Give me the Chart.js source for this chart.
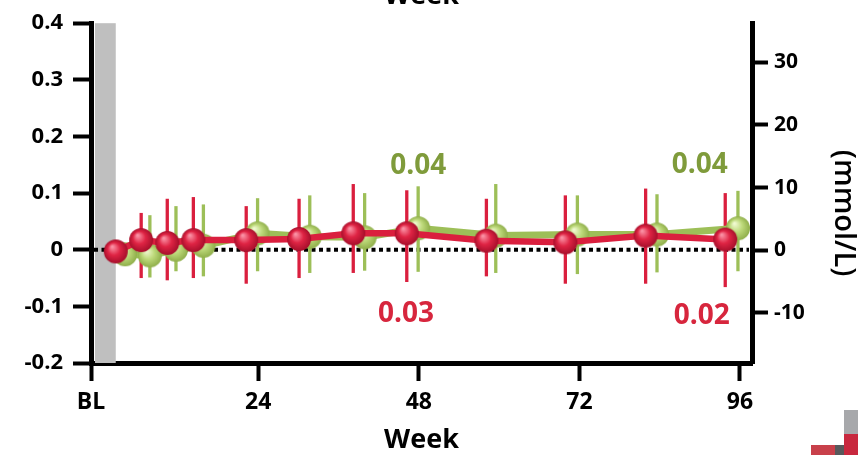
<!DOCTYPE html>
<html>
<head>
<meta charset="utf-8">
<script src="https://cdn.jsdelivr.net/npm/chart.js@4/dist/chart.umd.min.js"></script>
<style>
  html, body { margin: 0; padding: 0; background: #fff; }
  #wrap { width: 858px; height: 455px; position: relative; }
</style>
</head>
<body>
<div id="wrap"><canvas id="chart" width="858" height="455"></canvas></div>
<script>
// --- data ---
const xTicks = [-1, 24, 48, 72, 96];
const xTickLabels = ['BL', '24', '48', '72', '96'];
const leftTicks = [-0.2, -0.1, 0, 0.1, 0.2, 0.3, 0.4];
const leftTickLabels = ['-0.2', '-0.1', '0', '0.1', '0.2', '0.3', '0.4'];
const rightTicks = [-10, 0, 10, 20, 30];

const redWeek  = [2.7, 6.5, 10.4, 14.3, 22.2, 30.1, 38.2, 46.2, 58.1, 69.9, 81.9, 93.8];
const redMean  = [-0.003, 0.017, 0.012, 0.017, 0.017, 0.019, 0.029, 0.029, 0.016, 0.013, 0.025, 0.018];
const redLow   = [null, -0.050, -0.054, -0.050, -0.060, -0.050, -0.041, -0.057, -0.047, -0.060, -0.060, -0.066];
const redHigh  = [null, 0.065, 0.090, 0.093, 0.077, 0.090, 0.116, 0.105, 0.090, 0.096, 0.108, 0.100];

const greenWeek = [4.1, 7.8, 11.7, 15.8, 23.9, 31.7, 39.9, 47.9, 59.5, 71.7, 83.6, 95.7];
const greenMean = [-0.008, -0.010, 0.000, 0.007, 0.029, 0.023, 0.022, 0.038, 0.025, 0.027, 0.027, 0.038];
const greenLow  = [null, -0.049, -0.038, -0.047, -0.038, -0.041, -0.037, -0.039, -0.041, -0.043, -0.040, -0.038];
const greenHigh = [null, 0.061, 0.077, 0.080, 0.091, 0.096, 0.100, 0.112, 0.116, 0.096, 0.098, 0.104];

// baseline shading (weeks)
const blBand = [-0.4, 2.7];

// value labels: [week, value, text]
const greenNotes = [[47.9, 0.147, '0.04'], [90.0, 0.149, '0.04']];
const redNotes   = [[46.1, -0.113, '0.03'], [90.3, -0.117, '0.02']];

const RED = '#da1f3e';
const GREEN = '#9dbf58';
const FONT = '"Open Sans", "DejaVu Sans", sans-serif';

// shaded ball used as point marker
function makeBall(r, light, base, dark) {
    const c = document.createElement('canvas');
    c.width = c.height = r * 2 + 2;
    const g = c.getContext('2d');
    const cx = r + 1, cy = r + 1;
    const grad = g.createRadialGradient(cx - r * 0.3, cy - r * 0.4, r * 0.05, cx, cy, r);
    grad.addColorStop(0, light);
    grad.addColorStop(0.5, base);
    grad.addColorStop(1, dark);
    g.fillStyle = grad;
    g.beginPath();
    g.arc(cx, cy, r, 0, Math.PI * 2);
    g.fill();
    return c;
}
const redBall = makeBall(12, '#fb93a6', '#df2444', '#a60f2b');
const greenBall = makeBall(12, '#f1fad2', '#bdd97a', '#8fae4a');

function toPoints(xs, ys) {
    return xs.map((x, i) => ({ x: x, y: ys[i] }));
}

const extras = {
    id: 'extras',
    beforeDatasetsDraw(chart) {
        const ctx = chart.ctx;
        const x = chart.scales.x, y = chart.scales.y;
        const area = chart.chartArea;
        ctx.save();
        // baseline band
        ctx.fillStyle = '#bfbfbf';
        const bx0 = x.getPixelForValue(blBand[0]), bx1 = x.getPixelForValue(blBand[1]);
        ctx.fillRect(bx0, area.top, bx1 - bx0, area.bottom - area.top);
        // dotted zero line
        const y0 = y.getPixelForValue(0);
        ctx.strokeStyle = '#000';
        ctx.lineWidth = 4;
        ctx.setLineDash([4, 3.5]);
        ctx.beginPath();
        ctx.moveTo(area.left + 3, y0);
        ctx.lineTo(area.right - 3, y0);
        ctx.stroke();
        ctx.setLineDash([]);
        // error bars (green first, red on top)
        const bars = [[1, greenLow, greenHigh, GREEN], [0, redLow, redHigh, RED]];
        bars.forEach(([di, lo, hi, col]) => {
            const meta = chart.getDatasetMeta(di);
            ctx.strokeStyle = col;
            ctx.lineWidth = 3.3;
            meta.data.forEach((pt, i) => {
                if (lo[i] === null) return;
                ctx.beginPath();
                ctx.moveTo(pt.x, y.getPixelForValue(lo[i]));
                ctx.lineTo(pt.x, y.getPixelForValue(hi[i]));
                ctx.stroke();
            });
        });
        ctx.restore();
    },
    afterDraw(chart) {
        const ctx = chart.ctx;
        const x = chart.scales.x, y = chart.scales.y;
        const area = chart.chartArea;
        ctx.save();
        ctx.textAlign = 'center';
        ctx.textBaseline = 'middle';
        ctx.font = 'bold 28px ' + FONT;
        ctx.fillStyle = '#7f9b3b';
        greenNotes.forEach(n => ctx.fillText(n[2], x.getPixelForValue(n[0]), y.getPixelForValue(n[1])));
        ctx.fillStyle = '#d7263d';
        redNotes.forEach(n => ctx.fillText(n[2], x.getPixelForValue(n[0]), y.getPixelForValue(n[1])));

        // axis titles
        ctx.fillStyle = '#000';
        ctx.font = 'bold 27px ' + FONT;
        const midX = (area.left + area.right) / 2;
        ctx.fillText('Week', midX, 440);
        ctx.textBaseline = 'alphabetic';
        ctx.fillText('Week', midX, 4);
        ctx.save();
        ctx.translate(843, (area.top + area.bottom) / 2 + 20);
        ctx.rotate(Math.PI / 2);
        ctx.textBaseline = 'middle';
        ctx.font = '600 29px ' + FONT;
        ctx.fillText('(mmol/L)', 0, 0);
        ctx.restore();

        // corner logo fragment
        ctx.fillStyle = '#a7a8ab'; ctx.fillRect(844, 410, 14, 24);
        ctx.fillStyle = '#c8283e'; ctx.fillRect(844, 434, 14, 21);
        ctx.fillStyle = '#58595b'; ctx.fillRect(835, 445, 9, 10);
        ctx.fillStyle = '#c8404a'; ctx.fillRect(811, 445, 24, 10);
        ctx.restore();
    }
};

new Chart(document.getElementById('chart'), {
    type: 'line',
    data: {
        datasets: [
            {
                label: 'red',
                data: toPoints(redWeek, redMean),
                borderColor: RED,
                borderWidth: 6.5,
                pointStyle: redBall,
                pointRadius: 12,
                tension: 0,
                order: 0
            },
            {
                label: 'green',
                data: toPoints(greenWeek, greenMean),
                borderColor: GREEN,
                borderWidth: 7,
                pointStyle: greenBall,
                pointRadius: 12,
                tension: 0,
                order: 1
            }
        ]
    },
    options: {
        responsive: false,
        animation: false,
        layout: { padding: { top: 20, left: 0, right: 0, bottom: 0 } },
        plugins: { legend: { display: false }, tooltip: { enabled: false }, title: { display: false } },
        scales: {
            x: {
                type: 'linear',
                min: -1,
                max: 97.8,
                afterBuildTicks: s => { s.ticks = xTicks.map(v => ({ value: v })); },
                afterFit: s => { s.height = 92; },
                ticks: {
                    color: '#000',
                    padding: 8,
                    maxRotation: 0,
                    font: { family: FONT, size: 23, weight: 'bold' },
                    callback: v => xTickLabels[xTicks.indexOf(v)]
                },
                grid: { drawOnChartArea: false, tickLength: 18, tickWidth: 4, tickColor: '#000' },
                border: { color: '#000', width: 5 }
            },
            y: {
                position: 'left',
                min: -0.2,
                max: 0.4,
                afterBuildTicks: s => { s.ticks = leftTicks.map(v => ({ value: v })); },
                afterFit: s => { s.width = 91; },
                ticks: {
                    color: '#000',
                    padding: 10,
                    font: { family: FONT, size: 22, weight: 'bold' },
                    callback: v => leftTickLabels[leftTicks.findIndex(t => Math.abs(t - v) < 1e-9)]
                },
                grid: { drawOnChartArea: false, tickLength: 18, tickWidth: 4, tickColor: '#000' },
                border: { color: '#000', width: 5 }
            },
            y1: {
                position: 'right',
                min: -18,
                max: 36.25,
                afterBuildTicks: s => { s.ticks = rightTicks.map(v => ({ value: v })); },
                afterFit: s => { s.width = 106; },
                ticks: {
                    color: '#000',
                    padding: 6,
                    font: { family: FONT, size: 21, weight: 'bold' },
                    callback: v => String(v)
                },
                grid: { drawOnChartArea: false, tickLength: 16, tickWidth: 4, tickColor: '#000' },
                border: { color: '#000', width: 5 }
            }
        }
    },
    plugins: [extras]
});
</script>
</body>
</html>
